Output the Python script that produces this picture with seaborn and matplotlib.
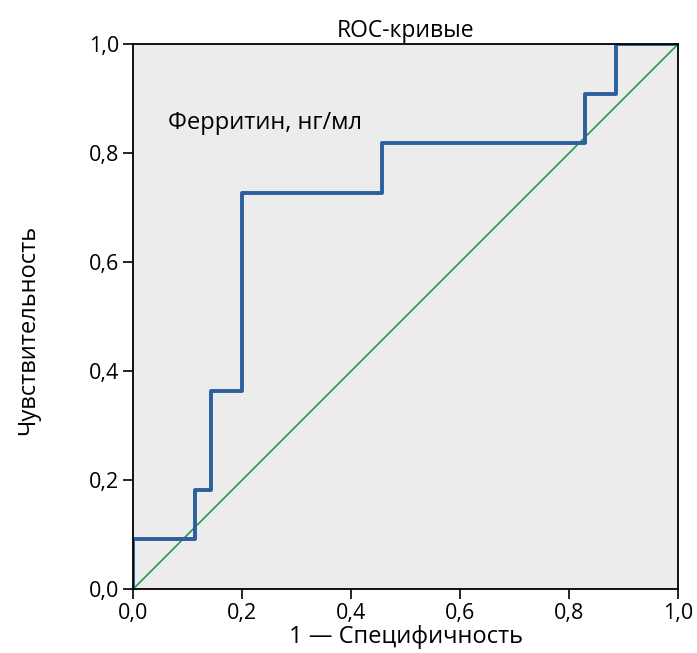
import pandas as pd
import seaborn as sns
import matplotlib.pyplot as plt

# ROC curve points (step shape)
fpr = [0.0, 0.0, 0.114, 0.114, 0.143, 0.143, 0.2, 0.2, 0.457, 0.457, 0.829, 0.829, 0.886, 0.886, 1.0]
tpr = [0.0, 0.091, 0.091, 0.182, 0.182, 0.364, 0.364, 0.727, 0.727, 0.818, 0.818, 0.909, 0.909, 1.0, 1.0]
ref_x = [0.0, 1.0]
ref_y = [0.0, 1.0]
ticks = [0.0, 0.2, 0.4, 0.6, 0.8, 1.0]
tick_labels = ['0,0', '0,2', '0,4', '0,6', '0,8', '1,0']

sns.set_style('ticks')
plt.rcParams['font.family'] = ['Open Sans', 'DejaVu Sans']
plt.rcParams['text.color'] = 'black'
plt.rcParams['axes.labelcolor'] = 'black'

roc = pd.DataFrame({'fpr': fpr, 'tpr': tpr})
diag = pd.DataFrame({'x': ref_x, 'y': ref_y})

fig = plt.figure(figsize=(6.97, 6.53), dpi=100)
ax = fig.add_axes([0.191, 0.098, 0.782, 0.8346])
ax.set_facecolor('#ececec')

sns.lineplot(data=diag, x='x', y='y', sort=False, estimator=None,
             color='#1a9641', linewidth=1.1, ax=ax)
sns.lineplot(data=roc, x='fpr', y='tpr', sort=False, estimator=None,
             color='#2b5f9e', linewidth=2.8, ax=ax)

ax.set_xlim(0, 1)
ax.set_ylim(0, 1)
ax.set_xticks(ticks)
ax.set_xticklabels(tick_labels)
ax.set_yticks(ticks)
ax.set_yticklabels(tick_labels)
ax.tick_params(labelsize=15.5, length=7, width=1.2, color='black', labelcolor='black', pad=3)
for s in ax.spines.values():
    s.set_linewidth(1.3)
    s.set_color('black')

ax.set_xlabel('1 — Специфичность', fontsize=17, labelpad=1)
ax.set_ylabel('Чувствительность', fontsize=17)
ax.yaxis.set_label_coords(-0.171, 0.475)
ax.set_title('ROC-кривые', fontsize=16.5, pad=5)
ax.text(0.064, 0.855, 'Ферритин, нг/мл', fontsize=17, va='center', ha='left')

fig.savefig('out.png', dpi=100)
